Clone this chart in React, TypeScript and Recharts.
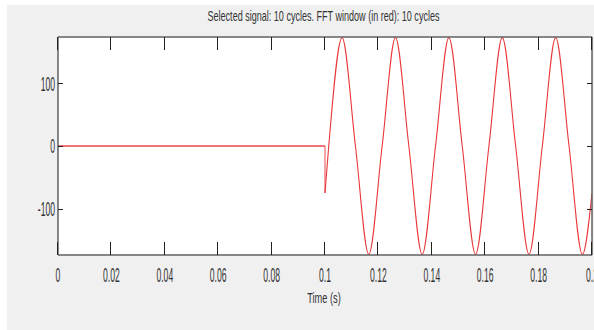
import { LineChart, Line, XAxis, YAxis } from 'recharts';

// values
const xTicks = [0, 0.02, 0.04, 0.06, 0.08, 0.1, 0.12, 0.14, 0.16, 0.18, 0.2];
const yTicks = [-100, 0, 100];
const xDomain = [0, 0.2];
const yDomain = [-174, 174];

const idleTime = [0, 0.1];
const idleValue = [0, 0];

const stepTime = [0.1, 0.1];
const stepValue = [0, -75];

const waveTime = [
  0.1, 0.1014, 0.1064, 0.1114, 0.1164, 0.1214, 0.1264, 0.1314, 0.1364, 0.1414, 0.1464,
  0.1514, 0.1564, 0.1614, 0.1664, 0.1714, 0.1764, 0.1814, 0.1864, 0.1914, 0.1964, 0.2,
];
const waveValue = [
  -75, 0, 173, 0, -173, 0, 173, 0, -173, 0, 173,
  0, -173, 0, 173, 0, -173, 0, 173, 0, -173, -75,
];

const title = 'Selected signal: 10 cycles. FFT window (in red): 10 cycles';
const xLabel = 'Time (s)';

const toRows = (ts: number[], vs: number[]) => ts.map((t, i) => ({ t, v: vs[i] }));

const idleData = toRows(idleTime, idleValue);
const stepData = toRows(stepTime, stepValue);
const waveData = toRows(waveTime, waveValue);

const FONT = '"Liberation Sans", Arial, sans-serif';
const SQUISH = 0.43;
const AXIS = '#606060';
const TICK = '#222';
const X_TICK_LEN = 13;
const Y_TICK_LEN = 5;

// figure panel and chart layout
const PANEL_X = 7;
const PANEL_Y = 5;
const W = 587;
const H = 325;
const MARGIN = { top: 32, right: 2, left: 0, bottom: 0 };
const Y_AXIS_W = 51;
const X_AXIS_H = 75;
const PLOT_L = PANEL_X + MARGIN.left + Y_AXIS_W;
const PLOT_T = PANEL_Y + MARGIN.top;
const PLOT_W = W - MARGIN.left - MARGIN.right - Y_AXIS_W;
const PLOT_H = H - MARGIN.top - MARGIN.bottom - X_AXIS_H;

// tick mark positions inside the frame (decoration only), on whole pixels
const tx = (t: number) => Math.round(PLOT_L + ((t - xDomain[0]) / (xDomain[1] - xDomain[0])) * PLOT_W);
const ty = (v: number) => Math.round(PLOT_T + ((yDomain[1] - v) / (yDomain[1] - yDomain[0])) * PLOT_H);

function XTick({ x, y, payload }: any) {
  return (
    <g transform={`translate(${x},${y})`}>
      <text transform={`scale(${SQUISH},1)`} textAnchor="middle" dy={26.7}
        fontFamily={FONT} fontSize={20} fill="#333">
        {String(payload.value)}
      </text>
    </g>
  );
}

function YTick({ x, y, payload }: any) {
  return (
    <g transform={`translate(${x},${y})`}>
      <text transform={`scale(${SQUISH},1)`} textAnchor="end" dy={7.3}
        fontFamily={FONT} fontSize={20} fill="#333">
        {String(payload.value)}
      </text>
    </g>
  );
}

const mark = (left: number, top: number, width: number, height: number, key: string) => (
  <div key={key} style={{ position: 'absolute', left, top, width, height, background: TICK }} />
);

export default function App() {
  const marks: any[] = [];
  xTicks.forEach((t) => {
    const x = tx(t) - 1;
    marks.push(mark(x, PLOT_T + PLOT_H - X_TICK_LEN, 1, X_TICK_LEN, `b${t}`));
    marks.push(mark(x, PLOT_T, 1, X_TICK_LEN, `t${t}`));
  });
  yTicks.forEach((v) => {
    const y = ty(v);
    marks.push(mark(PLOT_L, y, Y_TICK_LEN, 1, `l${v}`));
    marks.push(mark(PLOT_L + PLOT_W - Y_TICK_LEN, y, Y_TICK_LEN, 1, `r${v}`));
  });

  return (
    <div style={{ position: 'absolute', left: 0, top: 0, width: 594, height: 330, background: '#fff', overflow: 'hidden' }}>
      <div style={{ position: 'absolute', left: PANEL_X, top: PANEL_Y, width: W, height: H, background: '#f0f0f0' }}>
        <div style={{
          position: 'absolute', left: MARGIN.left + Y_AXIS_W, top: MARGIN.top,
          width: PLOT_W, height: PLOT_H, background: '#fff',
        }} />
        <div style={{ position: 'absolute', left: 0, top: 0 }}>
          <LineChart width={W} height={H} margin={MARGIN}>
            <XAxis type="number" dataKey="t" domain={xDomain} ticks={xTicks} interval={0}
              allowDataOverflow height={X_AXIS_H} tickLine={false} tickSize={0} tickMargin={0}
              axisLine={{ stroke: AXIS, strokeWidth: 1.5 }} tick={<XTick />} />
            <XAxis xAxisId="top" type="number" dataKey="t" domain={xDomain} ticks={xTicks} interval={0}
              allowDataOverflow orientation="top" mirror tickLine={false} tick={false}
              axisLine={{ stroke: AXIS, strokeWidth: 1.5 }} />
            <YAxis type="number" domain={yDomain} ticks={yTicks} interval={0} allowDataOverflow
              width={Y_AXIS_W} tickLine={false} tickSize={0} tickMargin={3}
              axisLine={{ stroke: AXIS, strokeWidth: 1.5 }} tick={<YTick />} />
            <YAxis yAxisId="right" type="number" domain={yDomain} ticks={yTicks} interval={0}
              allowDataOverflow orientation="right" mirror tickLine={false} tick={false}
              axisLine={{ stroke: AXIS, strokeWidth: 1.5 }} />
            {/* invisible series so the top and right frame axes get a scale */}
            <Line data={idleData} dataKey="v" xAxisId="top" yAxisId="right" stroke="none"
              dot={false} activeDot={false} isAnimationActive={false} />
            <Line data={idleData} dataKey="v" type="linear" stroke="#f07575" strokeWidth={2.2}
              dot={false} isAnimationActive={false} />
            <Line data={stepData} dataKey="v" type="linear" stroke="#e8494a" strokeWidth={1}
              dot={false} isAnimationActive={false} />
            <Line data={waveData} dataKey="v" type="monotoneX" stroke="#e8393a" strokeWidth={1.1}
              dot={false} isAnimationActive={false} />
          </LineChart>
        </div>
      </div>
      {marks}
      <svg width={594} height={330} style={{ position: 'absolute', left: 0, top: 0, pointerEvents: 'none' }}>
        <text x={323.5} y={20.5} textAnchor="middle" fontFamily={FONT} fontSize={15} fill="#333"
          textLength={232} lengthAdjust="spacingAndGlyphs">
          {title}
        </text>
        <text x={324} y={302.5} textAnchor="middle" fontFamily={FONT} fontSize={15} fill="#333"
          textLength={33.7} lengthAdjust="spacingAndGlyphs">
          {xLabel}
        </text>
      </svg>
    </div>
  );
}
